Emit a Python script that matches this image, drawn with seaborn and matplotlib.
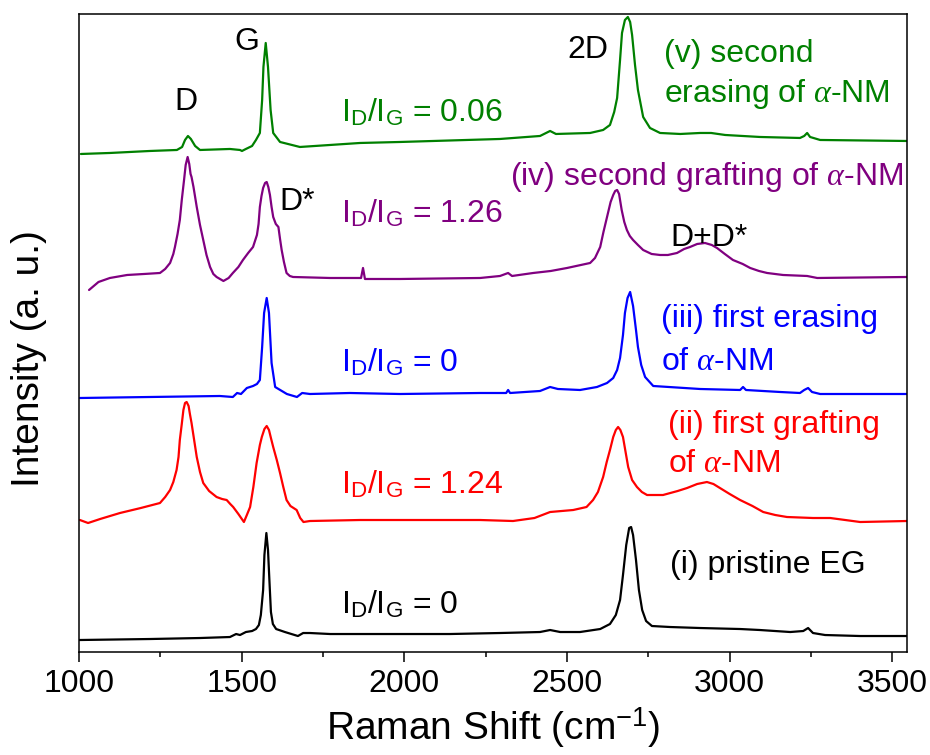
import matplotlib
matplotlib.use("Agg")
import matplotlib.pyplot as plt
from matplotlib.ticker import MultipleLocator
import pandas as pd
import seaborn as sns

# Raman spectra of epitaxial graphene (EG), stacked with vertical offsets (a.u.)
samples = [
    "(i) pristine EG",
    "(ii) first grafting",
    "(iii) first erasing",
    "(iv) second grafting",
    "(v) second erasing",
]
colors = ["#000000", "#ff0000", "#0000ff", "#800080", "#008000"]
ratio_labels = ["0", "1.24", "0", "1.26", "0.06"]

shift_i = [1000, 1218, 1372, 1464, 1483, 1495, 1513, 1532, 1544, 1553, 1559, 1566, 1570, 1576,
           1581, 1586, 1590, 1596, 1606, 1633, 1673, 1689, 1710, 1772, 1987, 2140, 2294, 2417,
           2448, 2479, 2540, 2602, 2632, 2650, 2663, 2672, 2682, 2691, 2697, 2703, 2712, 2721,
           2731, 2743, 2761, 2817, 2909, 3032, 3093, 3186, 3226, 3241, 3256, 3293, 3401, 3545]
int_i = [12, 13, 14, 15, 18, 17, 20, 21, 23, 27, 37, 62, 97, 119, 102, 67, 40, 28, 23, 20,
         16, 19, 19, 18, 18, 18, 19, 20, 22, 20, 20, 23, 28, 37, 52, 77, 107, 124, 125, 117,
         92, 62, 42, 31, 26, 25, 24, 23, 22, 20, 21, 24, 19, 17, 16, 16]

shift_ii = [1003, 1028, 1065, 1126, 1190, 1249, 1265, 1280, 1290, 1300, 1306, 1310, 1316, 1321,
            1326, 1331, 1337, 1341, 1346, 1354, 1362, 1372, 1382, 1400, 1423, 1440, 1454, 1465,
            1474, 1490, 1507, 1516, 1526, 1536, 1546, 1556, 1562, 1570, 1577, 1584, 1590, 1597,
            1608, 1618, 1628, 1638, 1650, 1669, 1680, 1690, 1710, 1864, 2233, 2334, 2400, 2448,
            2519, 2560, 2580, 2595, 2611, 2622, 2632, 2642, 2650, 2657, 2664, 2672, 2680, 2688,
            2700, 2715, 2730, 2746, 2795, 2840, 2869, 2900, 2930, 2950, 2970, 3000, 3032, 3070,
            3103, 3140, 3176, 3256, 3309, 3401, 3545]
int_ii = [132, 129, 133, 139, 144, 149, 155, 162, 170, 182, 195, 212, 228, 242, 249, 250, 246,
          238, 229, 212, 195, 180, 169, 161, 155, 153, 152, 148, 145, 138, 130, 137, 145, 165,
          189, 207, 215, 223, 226, 222, 214, 205, 192, 179, 165, 152, 146, 142, 134, 130, 131,
          132, 132, 131, 134, 140, 142, 145, 152, 160, 175, 190, 202, 215, 222, 225, 222, 215,
          200, 185, 172, 165, 160, 157, 157, 161, 164, 168, 170, 168, 164, 158, 152, 146, 140,
          137, 135, 134, 134, 130, 131]

shift_iii = [1003, 1218, 1433, 1473, 1486, 1498, 1516, 1535, 1547, 1556, 1563, 1569, 1577, 1584,
             1592, 1603, 1639, 1670, 1686, 1710, 1833, 1987, 2233, 2313, 2319, 2325, 2417, 2448,
             2472, 2540, 2592, 2623, 2642, 2654, 2663, 2672, 2678, 2686, 2694, 2703, 2712, 2718,
             2728, 2740, 2765, 2909, 3032, 3041, 3050, 3155, 3216, 3229, 3241, 3253, 3278, 3545]
int_iii = [254, 255, 256, 255, 259, 258, 264, 266, 268, 272, 305, 339, 354, 339, 289, 265, 258,
           255, 259, 258, 259, 258, 259, 259, 262, 259, 261, 265, 263, 262, 265, 269, 274, 282,
           294, 317, 339, 354, 360, 346, 322, 305, 287, 275, 266, 263, 262, 265, 262, 260, 259,
           262, 264, 260, 258, 258]

shift_iv = [1031, 1060, 1095, 1148, 1200, 1249, 1265, 1280, 1290, 1295, 1303, 1310, 1316, 1323,
            1328, 1334, 1339, 1343, 1346, 1352, 1362, 1372, 1382, 1392, 1403, 1413, 1423, 1444,
            1460, 1473, 1490, 1504, 1520, 1535, 1547, 1552, 1556, 1561, 1566, 1572, 1577, 1582,
            1587, 1592, 1597, 1605, 1613, 1618, 1623, 1630, 1638, 1648, 1658, 1772, 1867, 1873,
            1879, 1987, 2233, 2294, 2319, 2331, 2396, 2450, 2500, 2571, 2586, 2602, 2612, 2623,
            2634, 2642, 2648, 2654, 2660, 2668, 2676, 2684, 2693, 2703, 2718, 2734, 2760, 2786,
            2810, 2838, 2860, 2878, 2900, 2924, 2945, 2961, 2985, 3010, 3040, 3063, 3090, 3115,
            3164, 3238, 3269, 3545]
int_iv = [362, 370, 374, 377, 378, 379, 383, 389, 398, 405, 418, 432, 452, 472, 487, 495, 488,
          478, 475, 465, 445, 427, 412, 397, 385, 378, 375, 371, 374, 379, 385, 392, 399, 405,
          417, 428, 445, 456, 464, 469, 470, 465, 457, 445, 435, 428, 425, 413, 402, 390, 379,
          376, 375, 374, 374, 384, 373, 373, 374, 376, 379, 376, 379, 381, 384, 389, 394, 405,
          420, 435, 450, 457, 461, 462, 458, 442, 430, 422, 416, 412, 407, 402, 398, 397, 397,
          399, 403, 405, 408, 409, 407, 404, 398, 392, 388, 384, 381, 379, 377, 376, 374, 375]

shift_v = [1006, 1095, 1218, 1301, 1317, 1326, 1335, 1344, 1357, 1372, 1464, 1495, 1501, 1513,
           1532, 1544, 1556, 1563, 1567, 1574, 1581, 1589, 1597, 1618, 1679, 1864, 1987, 2294,
           2417, 2448, 2466, 2571, 2611, 2632, 2645, 2654, 2663, 2669, 2678, 2687, 2694, 2700,
           2709, 2718, 2734, 2755, 2786, 2848, 2909, 2943, 2986, 3093, 3216, 3229, 3238, 3247,
           3278, 3545]
int_v = [498, 499, 501, 502, 505, 512, 516, 513, 506, 502, 503, 502, 501, 503, 506, 512, 519,
         552, 585, 609, 585, 542, 519, 510, 505, 509, 510, 513, 516, 521, 518, 519, 522, 527,
         540, 554, 592, 619, 632, 635, 630, 617, 587, 562, 535, 524, 519, 518, 519, 519, 517,
         515, 514, 516, 519, 515, 512, 511]

shifts = [shift_i, shift_ii, shift_iii, shift_iv, shift_v]
intensities = [int_i, int_ii, int_iii, int_iv, int_v]

frames = []
for name, sx, iy in zip(samples, shifts, intensities):
    frames.append(pd.DataFrame({"shift": sx, "intensity": iy, "sample": name}))
spectra = pd.concat(frames, ignore_index=True)

sns.set_theme(style="ticks")
plt.rcParams["font.family"] = ["Liberation Sans", "DejaVu Sans"]
plt.rcParams["mathtext.fontset"] = "custom"
plt.rcParams["mathtext.rm"] = "Liberation Sans"
plt.rcParams["mathtext.it"] = "Liberation Serif:italic"
plt.rcParams["mathtext.bf"] = "Liberation Sans:bold"
plt.rcParams["axes.unicode_minus"] = False
plt.rcParams["text.color"] = "black"
plt.rcParams["axes.labelcolor"] = "black"
plt.rcParams["xtick.color"] = "black"

fig = plt.figure(figsize=(9.3, 7.55), dpi=100)
ax = fig.add_axes([0.0849, 0.1364, 0.8904, 0.8451])

sns.lineplot(data=spectra, x="shift", y="intensity", hue="sample",
             palette=dict(zip(samples, colors)), estimator=None, sort=False,
             linewidth=1.6, legend=False, ax=ax)

ax.set_xlim(1000, 3545)
ax.set_ylim(0, 638)
ax.set_yticks([])
ax.xaxis.set_major_locator(MultipleLocator(500))
ax.xaxis.set_minor_locator(MultipleLocator(250))
ax.tick_params(axis="x", which="major", direction="out", length=7, width=1.1,
               labelsize=23, pad=5, colors="black")
ax.tick_params(axis="x", which="minor", direction="out", length=3.6, width=1.1)
for sp in ax.spines.values():
    sp.set_visible(True)
    sp.set_linewidth(1.1)
    sp.set_color("black")

ax.set_xlabel("Raman Shift (cm$^{\\mathregular{-1}}$)", fontsize=28, labelpad=5)
ax.set_ylabel("Intensity (a. u.)", fontsize=28)
ax.yaxis.set_label_coords(-0.039, 0.46)

fs = 23
ratio_y = [39, 159, 280, 429, 530]
for c, r, yb in zip(colors, ratio_labels, ratio_y):
    ax.text(1805, yb, r"I$_\mathregular{D}$/I$_\mathregular{G}$ = " + r,
            color=c, fontsize=fs, va="baseline", ha="left")

alpha_nm = r"$\alpha$-NM"
ax.text(2817, 79, "(i) pristine EG", color=colors[0], fontsize=fs, va="baseline")
ax.text(2811, 219, "(ii) first grafting", color=colors[1], fontsize=fs, va="baseline")
ax.text(2811, 180, "of " + alpha_nm, color=colors[1], fontsize=fs, va="baseline")
ax.text(2789, 325, "(iii) first erasing", color=colors[2], fontsize=fs, va="baseline")
ax.text(2789, 282, "of " + alpha_nm, color=colors[2], fontsize=fs, va="baseline")
ax.text(2325, 467, "(iv) second grafting of " + alpha_nm, color=colors[3], fontsize=fs,
        va="baseline")
ax.text(2798, 590, "(v) second", color=colors[4], fontsize=fs, va="baseline")
ax.text(2798, 550, "erasing of " + alpha_nm, color=colors[4], fontsize=fs, va="baseline")

# band assignments
ax.text(1329, 542, "D", fontsize=fs, ha="center", va="baseline", color="black")
ax.text(1515, 602, "G", fontsize=fs, ha="center", va="baseline", color="black")
ax.text(2565, 594, "2D", fontsize=fs, ha="center", va="baseline", color="black")
ax.text(1615, 442, "D*", fontsize=fs, ha="left", va="baseline", color="black")
ax.text(2817, 406, "D+D*", fontsize=fs, ha="left", va="baseline", color="black")

fig.savefig("out.png", dpi=100)
